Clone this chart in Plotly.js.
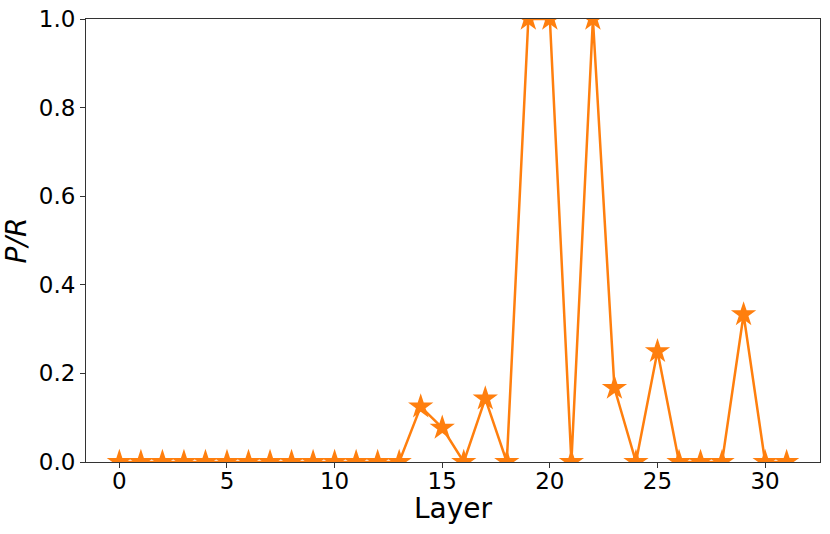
<!DOCTYPE html>
<html>
<head>
<meta charset="utf-8">
<script src="https://cdn.plot.ly/plotly-3.0.1.min.js"></script>
<style>
  body { margin: 0; }
  #plot { width: 830px; height: 534px; }
</style>
</head>
<body>
<div id="plot"></div>
<script>
const layers = Array.from({length: 32}, (_, i) => i);
const pr = [0, 0, 0, 0, 0, 0, 0, 0, 0, 0, 0, 0, 0, 0,
            0.125, 0.077, 0, 0.143, 0, 1.0, 1.0, 0, 1.0, 0.167,
            0, 0.25, 0, 0, 0, 0.333, 0, 0];
const xTicks = [0, 5, 10, 15, 20, 25, 30];
const yTicks = [0, 0.2, 0.4, 0.6, 0.8, 1.0];

const trace = {
    x: layers,
    y: pr,
    mode: 'lines+markers',
    type: 'scatter',
    line: { color: '#ff7f0e', width: 2.5 },
    marker: { symbol: 'star', size: 19, color: '#ff7f0e', line: { width: 0 } },
    cliponaxis: true
};

const tickFont = { family: 'DejaVu Sans', size: 23, color: '#000' };
const titleFont = { family: 'DejaVu Sans', size: 28, color: '#000' };

const layout = {
    width: 830,
    height: 534,
    margin: { l: 86, r: 10, t: 19, b: 72 },
    paper_bgcolor: '#fff',
    plot_bgcolor: '#fff',
    showlegend: false,
    xaxis: {
        range: [-1.55, 32.55],
        tickvals: xTicks,
        ticktext: xTicks.map(String),
        ticks: 'outside',
        ticklen: 5,
        tickwidth: 1,
        tickcolor: '#333',
        ticklabelstandoff: -7,
        showgrid: false,
        zeroline: false,
        showline: true,
        linecolor: '#333',
        linewidth: 1,
        mirror: true,
        tickfont: tickFont
    },
    yaxis: {
        range: [0, 1.0],
        tickvals: yTicks,
        ticktext: yTicks.map(v => v.toFixed(1)),
        ticks: 'outside',
        ticklen: 5,
        tickwidth: 1,
        tickcolor: '#333',
        showgrid: false,
        zeroline: false,
        showline: true,
        linecolor: '#333',
        linewidth: 1,
        mirror: true,
        tickfont: tickFont,
        title: { text: '<i>P/R</i>', font: titleFont, standoff: 5 }
    },
    annotations: [{
        text: 'Layer',
        xref: 'paper', yref: 'paper',
        x: 0.5, y: -0.104,
        xanchor: 'center', yanchor: 'middle',
        showarrow: false,
        font: titleFont
    }]
};

Plotly.newPlot('plot', [trace], layout, { displayModeBar: false, staticPlot: true });
</script>
</body>
</html>
